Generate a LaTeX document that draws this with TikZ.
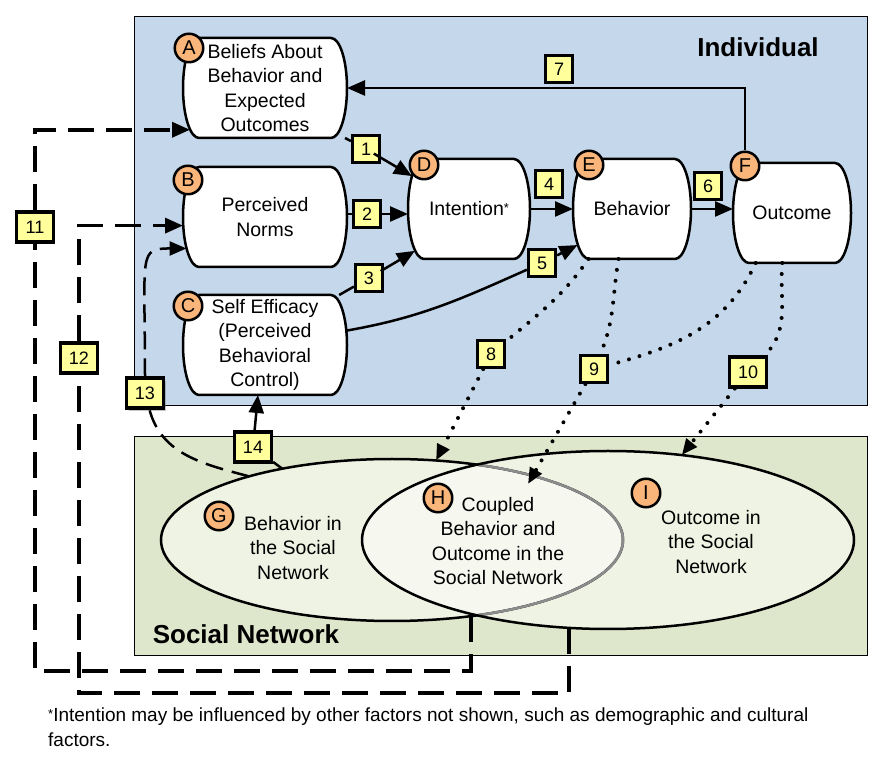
\documentclass[tikz,border=0pt]{standalone}
\usepackage{fontspec}
\setmainfont{Liberation Sans}
\usetikzlibrary{arrows.meta,shapes.geometric,shadows}

\definecolor{indivblue}{RGB}{197,215,234}
\definecolor{socgreen}{RGB}{222,230,204}
\definecolor{ovalfill}{RGB}{239,243,228}
\definecolor{overlapfill}{RGB}{246,248,240}
\definecolor{tagyellow}{RGB}{255,255,156}
\definecolor{letterorange}{RGB}{250,182,122}

\newcommand{\stagefont}{\fontsize{19.5}{24.5}\selectfont}
\newcommand{\tagfont}{\fontsize{18}{20}\selectfont}
\newcommand{\headfont}{\fontsize{26}{30}\selectfont\bfseries}
\newcommand{\smallstar}{\raisebox{3pt}{\fontsize{13}{13}\selectfont *}}
%% outline with bulged sides: x, y, half width
\newcommand{\pill}[3]{%
  \draw [line width=2.5pt, fill=white] (#1-#3+16,#2+50) -- (#1+#3-16,#2+50)
    arc [start angle=90, end angle=-90, x radius=16, y radius=50]
    -- (#1-#3+16,#2-50)
    arc [start angle=270, end angle=90, x radius=16, y radius=50] -- cycle;}

\tikzset{
  stage/.style={rectangle, minimum height=100pt, inner sep=0pt,
    outer sep=0pt, align=center, font=\stagefont},
  letter/.style={circle, draw, line width=2.5pt, fill=letterorange,
    minimum size=28.5pt, inner sep=0pt, font=\fontsize{20}{20}\selectfont},
  tag/.style={rectangle, draw, line width=3.2pt, fill=tagyellow,
    minimum width=27pt, minimum height=27pt, inner sep=0pt, font=\tagfont},
  widetag/.style={tag, minimum width=37pt, minimum height=30pt},
  oval/.style={ellipse, inner sep=0pt, outer sep=0pt},
  link/.style={line width=2.5pt, -{Triangle[length=18pt,width=15pt]}},
  dotline/.style={line width=4pt, line cap=round, dash pattern=on 0pt off 11pt},
  dotlink/.style={dotline, -{Triangle[length=16pt,width=13pt]}},
  feedback/.style={line width=3.5pt, dash pattern=on 26pt off 12pt,
    -{Triangle[length=18pt,width=15pt]}},
  thinfeedback/.style={line width=2.5pt, dash pattern=on 18pt off 9pt,
    -{Triangle[length=17pt,width=14pt]}},
}

\begin{document}
\begin{tikzpicture}[x=1pt, y=1pt]
\useasboundingbox (0,0) rectangle (896,771);
%%
%% panels
\draw [fill=indivblue, line width=1pt] (134,365) rectangle (867,754);
\draw [fill=socgreen, line width=1pt] (134,116) rectangle (867,334);
\node [font=\headfont] (indiv) at (758,724) {Individual};
\node [font=\headfont] (social) at (246,137) {Social Network};
%%
%% ovals G and I, overlap H
\node [oval, fill=ovalfill, minimum width=462pt, minimum height=162pt] (G) at (392,231) {};
\node [oval, fill=ovalfill, minimum width=492pt, minimum height=178pt] (I) at (608,231) {};
\begin{scope}
\clip (G.center) ellipse [x radius=231, y radius=81];
\fill [overlapfill] (I.center) ellipse [x radius=246, y radius=89];
\end{scope}
\draw [line width=2.5pt] (G.center) ellipse [x radius=231, y radius=81];
\begin{scope}
\clip (I.center) ellipse [x radius=246, y radius=89];
\draw [line width=2.5pt, black!45] (G.center) ellipse [x radius=231, y radius=81];
\end{scope}
\draw [line width=2.5pt] (I.center) ellipse [x radius=246, y radius=89];
\node [align=center, font=\stagefont] (tG) at (293,223) {Behavior in\\the Social\\Network};
\node [align=center, font=\stagefont] (tH) at (498,230) {Coupled\\Behavior and\\Outcome in the\\Social Network};
\node [align=center, font=\stagefont] (tI) at (711,229) {Outcome in\\the Social\\Network};
\coordinate (hT) at (528,287);
%%
%% stages
\foreach \nm/\x/\y/\w/\txt in {A/265/683/82/{Beliefs About\\Behavior and\\Expected\\Outcomes},
    B/265/554/82/{Perceived\\Norms},
    C/265/426/82/{Self Efficacy\\(Perceived\\Behavioral\\Control)},
    D/469/562/61/{Intention\smallstar},
    E/632/562/59/{Behavior},
    F/792/558/59/{Outcome}}{
  \pill{\x}{\y}{\w}
  \node [stage, minimum width=2*\w pt] (\nm) at (\x,\y) {\txt};
}
%%
%% numbered tags
\node [tag] (n1) at (366,622) {1};
\node [tag] (n2) at (367,557) {2};
\node [tag] (n3) at (369,493) {3};
\node [tag] (n4) at (549,587) {4};
\node [tag] (n5) at (542,508) {5};
\node [tag] (n6) at (708,585) {6};
\node [tag] (n7) at (559,702) {7};
\node [tag] (n8) at (491,417) {8};
\node [tag] (n9) at (594,402) {9};
\node [widetag] (n10) at (748,399) {10};
\node [widetag] (n11) at (35,544) {11};
\node [widetag] (n12) at (79,413) {12};
\node [widetag, drop shadow={shadow xshift=2pt, shadow yshift=-3pt, opacity=0.45}] (n13) at (145,378) {13};
\node [widetag] (n14) at (253,324) {14};
%%
%% letters
\node [letter] (la) at (189,723) {A};
\node [letter] (lb) at (188,591) {B};
\node [letter] (lc) at (188,465) {C};
\node [letter] (ld) at (424,606) {D};
\node [letter] (le) at (589,606) {E};
\node [letter] (lf) at (745,605) {F};
\node [letter] (lg) at (219,255) {G};
\node [letter] (lh) at (438,273) {H};
\node [letter] (li) at (646,278) {I};
%%
%% solid links
\draw [link, shorten <=-8.5pt, shorten >=-4.5pt] (A.-32) -- (n1) -- (D.150);
\draw [link] (B.east |- n2) -- (n2) -- (n2 -| D.west);
\draw [link, shorten <=-4pt, shorten >=-8pt] (C.34) -- (n3) -- (D.217);
\draw [link] (D.east) -- (E.west);
\draw [link, shorten >=-5pt] (C.10) to[out=10, in=204] (n5) -- (E.213);
\draw [link] (E.east) -- (E.east -| F.west);
\draw [link] (lf) |- (A.east);
\draw [link] (G.147) -- (n14) -- (C.262);
%%
%% dotted links
\draw [dotlink] (E.229) to[out=235, in=40] (n8) -- (G.61);
\draw [dotline] (F.234) to[out=245, in=15] (n9);
\draw [dotlink] (E.255) to[out=260, in=67] (n9) -- (hT);
\draw [dotlink] (F.259) to[out=265, in=45] (n10) -- (I.49);
%%
%% dashed feedback
\draw [feedback, shorten >=-7pt] (G.-44) -- ++(0,-55) -| (n11) |- (A.207);
\draw [feedback] (I.246) -- ++(0,-65) -| (n12) |- (B.186);
\draw [thinfeedback, shorten >=-3.5pt] (G.156) to[out=165, in=-75] (n13)
      .. controls +(0,140) and +(-45,0) .. (B.201);
%%
%% footnote
\node [anchor=north west, inner sep=0pt, align=left, font=\fontsize{19}{25}\selectfont] (note) at (48,63)
  {\smallstar Intention may be influenced by other factors not shown, such as demographic and cultural\\factors.};
\end{tikzpicture}
\end{document}
